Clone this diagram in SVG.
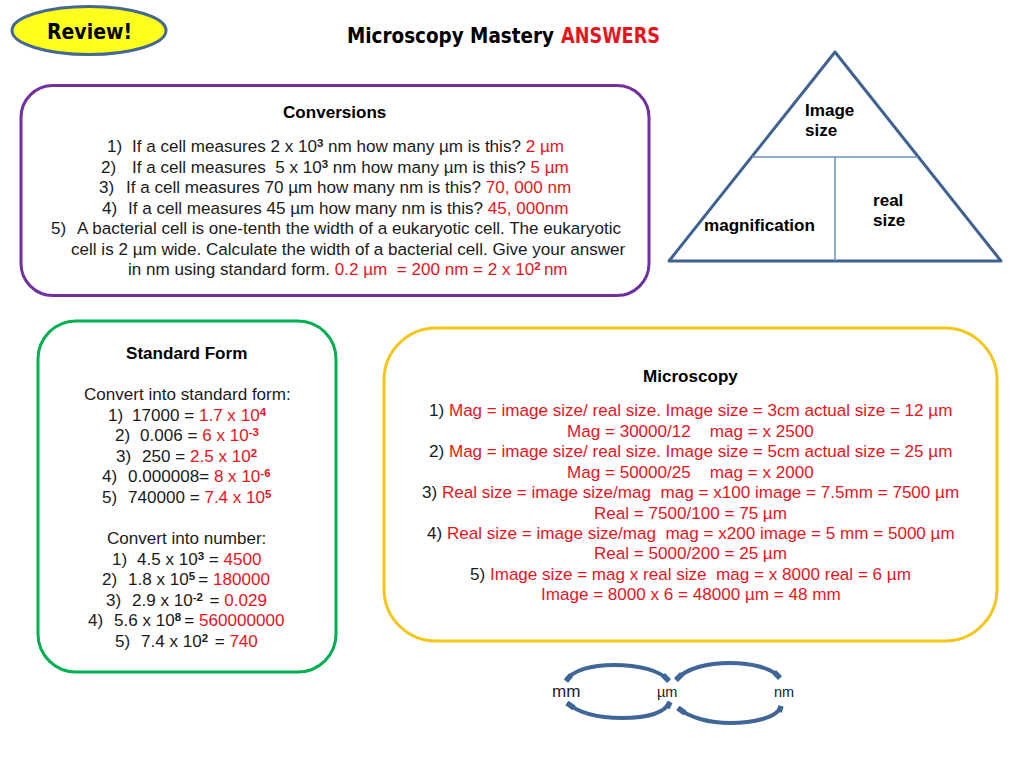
<svg xmlns="http://www.w3.org/2000/svg" width="1024" height="768" viewBox="0 0 1024 768">
<style>
text{font-family:"Liberation Sans",Arial,sans-serif;font-size:17.07px;fill:#1a1a1a;white-space:pre}
.b{font-weight:bold;fill:#000}
.r{fill:#e8141c}
.s{font-size:11.5px;font-weight:bold}
.t{font-family:"DejaVu Sans Condensed","DejaVu Sans",sans-serif;font-weight:bold;fill:#000}
.box{fill:#fff;stroke-width:3}
.tri{fill:none;stroke:#3f6290;stroke-width:3;stroke-linejoin:round}
.div{fill:none;stroke:#6f8fc0;stroke-width:1.5}
.arc{fill:none;stroke:#3f6696;stroke-width:4}
.end{fill:none;stroke:#3f6696;stroke-width:5.500}
.u{font-size:14.5px}
</style>
<rect width="1024" height="768" fill="#fff"/>
<g id="review">
<ellipse cx="89" cy="30.500" rx="77" ry="24" fill="#ffff1e" stroke="#44688f" stroke-width="3"/>
<text class="t" x="47" y="39" style="font-size:22px" textLength="85" lengthAdjust="spacingAndGlyphs">Review!</text>
</g>
<g id="title">
<text class="t" y="43" style="font-size:21px"><tspan x="347" textLength="207" lengthAdjust="spacingAndGlyphs">Microscopy Mastery</tspan><tspan x="561" textLength="99" lengthAdjust="spacingAndGlyphs" style="fill:#e8141c">ANSWERS</tspan></text>
</g>
<g id="conversions">
<rect class="box" x="21" y="85.500" width="628" height="210" rx="32" stroke="#7030a0"/>
<text class="b" x="283" y="118">Conversions</text>
<text y="152"><tspan x="107">1)</tspan><tspan x="132">If a cell measures 2 x 10</tspan><tspan class="s" dy="-5">3</tspan><tspan dy="5"> nm how many µm is this? </tspan><tspan class="r">2 µm</tspan></text>
<text y="173"><tspan x="101">2)</tspan><tspan x="132">If a cell measures  5 x 10</tspan><tspan class="s" dy="-5">3</tspan><tspan dy="5"> nm how many µm is this? </tspan><tspan class="r">5 µm</tspan></text>
<text y="193"><tspan x="99">3)</tspan><tspan x="126">If a cell measures 70 µm how many nm is this? </tspan><tspan class="r">70, 000 nm</tspan></text>
<text y="214"><tspan x="102">4)</tspan><tspan x="128">If a cell measures 45 µm how many nm is this? </tspan><tspan class="r">45, 000nm</tspan></text>
<text y="234"><tspan x="51">5)</tspan><tspan x="77">A bacterial cell is one-tenth the width of a eukaryotic cell. The eukaryotic</tspan></text>
<text x="71" y="255">cell is 2 µm wide. Calculate the width of a bacterial cell. Give your answer</text>
<text y="275"><tspan x="128">in nm using standard form. </tspan><tspan class="r">0.2 µm  = 200 nm = 2 x 10</tspan><tspan class="r s" dy="-5">2 </tspan><tspan class="r" dy="5">nm</tspan></text>
</g>
<g id="triangle">
<path class="tri" d="M835 52L1001 261H669Z"/>
<path class="div" d="M752 157H918M835 157V261"/>
<text class="b" x="805" y="116">Image</text>
<text class="b" x="805" y="136">size</text>
<text class="b" x="873" y="206">real</text>
<text class="b" x="873" y="226">size</text>
<text class="b" x="704" y="231">magnification</text>
</g>
<g id="standard-form">
<rect class="box" x="38" y="321" width="298" height="351" rx="38" stroke="#00b050"/>
<text class="b" x="126" y="359">Standard Form</text>
<text x="84" y="400">Convert into standard form:</text>
<text y="421"><tspan x="108">1)</tspan><tspan x="132">17000 = </tspan><tspan class="r">1.7 x 10</tspan><tspan class="r s" dy="-5">4</tspan></text>
<text y="441"><tspan x="115">2)</tspan><tspan x="140">0.006 = </tspan><tspan class="r">6 x 10</tspan><tspan class="r s" dy="-5">-3</tspan></text>
<text y="462"><tspan x="116">3)</tspan><tspan x="142">250 = </tspan><tspan class="r">2.5 x 10</tspan><tspan class="r s" dy="-5">2</tspan></text>
<text y="482"><tspan x="102">4)</tspan><tspan x="128">0.000008= </tspan><tspan class="r">8 x 10</tspan><tspan class="r s" dy="-5">-6</tspan></text>
<text y="503"><tspan x="102">5)</tspan><tspan x="128">740000 = </tspan><tspan class="r">7.4 x 10</tspan><tspan class="r s" dy="-5">5</tspan></text>
<text x="107" y="544">Convert into number:</text>
<text y="565"><tspan x="112">1)</tspan><tspan x="137">4.5 x 10</tspan><tspan class="s" dy="-5">3</tspan><tspan dy="5"> = </tspan><tspan class="r">4500</tspan></text>
<text y="585"><tspan x="102">2)</tspan><tspan x="128">1.8 x 10</tspan><tspan class="s" dy="-5">5 </tspan><tspan dy="5">= </tspan><tspan class="r">180000</tspan></text>
<text y="606"><tspan x="106">3)</tspan><tspan x="132">2.9 x 10</tspan><tspan class="s" dy="-5">-2</tspan><tspan dy="5" dx="1.800"> = </tspan><tspan class="r">0.029</tspan></text>
<text y="626"><tspan x="88">4)</tspan><tspan x="114">5.6 x 10</tspan><tspan class="s" dy="-5">8 </tspan><tspan dy="5">= </tspan><tspan class="r">560000000</tspan></text>
<text y="647"><tspan x="115">5)</tspan><tspan x="141">7.4 x 10</tspan><tspan class="s" dy="-5">2</tspan><tspan dy="5" dx="1.800"> = </tspan><tspan class="r">740</tspan></text>
</g>
<g id="microscopy">
<rect class="box" x="384" y="328" width="613" height="313" rx="52" stroke="#f5c518"/>
<text class="b" x="643" y="382">Microscopy</text>
<text x="429" y="416">1) <tspan class="r">Mag = image size/ real size. Image size = 3cm actual size = 12 µm</tspan></text>
<text class="r" x="567" y="437">Mag = 30000/12    mag = x 2500</text>
<text x="429" y="457">2) <tspan class="r">Mag = image size/ real size. Image size = 5cm actual size = 25 µm</tspan></text>
<text class="r" x="567" y="478">Mag = 50000/25    mag = x 2000</text>
<text x="422" y="498">3) <tspan class="r">Real size = image size/mag  mag = x100 image = 7.5mm = 7500 µm</tspan></text>
<text class="r" x="594" y="519">Real = 7500/100 = 75 µm</text>
<text x="427" y="539">4) <tspan class="r">Real size = image size/mag  mag = x200 image = 5 mm = 5000 µm</tspan></text>
<text class="r" x="594" y="559">Real = 5000/200 = 25 µm</text>
<text x="470" y="580">5) <tspan class="r">Image size = mag x real size  mag = x 8000 real = 6 µm</tspan></text>
<text class="r" x="541" y="600">Image = 8000 x 6 = 48000 µm = 48 mm</text>
</g>
<g id="mm"><text x="552" y="697">mm</text></g>
<g id="um"><text class="u" x="657" y="697">µm</text></g>
<g id="nm"><text class="u" x="774" y="697">nm</text></g>
<g id="connectors">
<path class="arc" d="M566 681C572 670 592 665 614 665C638 665 660 670 669 681"/>
<path class="arc" d="M676 680C686 668 708 663 730 663C752 663 772 668 780 678"/>
<path class="arc" d="M567 703C580 714 600 718 622 718C644 718 664 714 670 702"/>
<path class="arc" d="M678 708C690 718 710 723 730 723C752 723 778 718 781 706"/>
<path class="end" d="M566 681L571 675M669 681L663 675M676 680L682 674M780 678L774 672M567 703L574 708M670 702L667 708M678 708L685 713M781 706L779 712"/>
</g>
</svg>
